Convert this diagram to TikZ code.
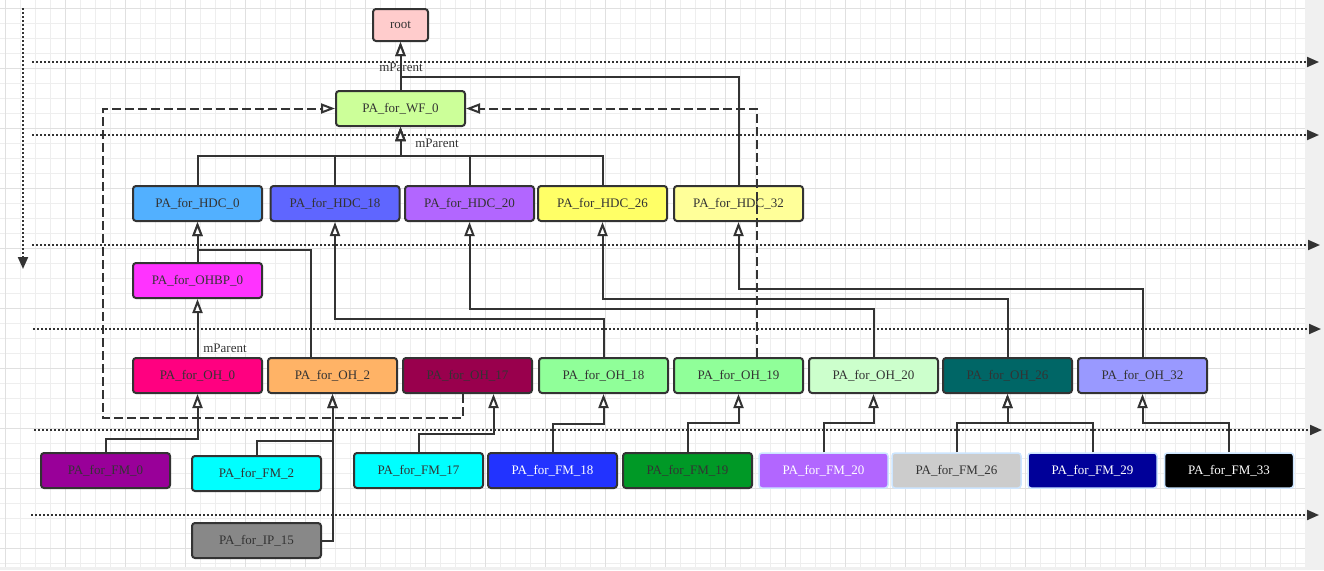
\documentclass[tikz,border=0pt]{standalone}
\usepackage{fontspec}
\setmainfont{Liberation Serif}
\usetikzlibrary{arrows.meta}
\definecolor{ln}{HTML}{333333}
\definecolor{lb}{HTML}{CCE5FF}
\definecolor{gminor}{HTML}{EEEEEE}
\definecolor{gmajor}{HTML}{E0E0E0}
\definecolor{cRoot}{HTML}{FFCCCC}
\definecolor{cWF}{HTML}{CCFF99}
\definecolor{cHa}{HTML}{52B0FF}
\definecolor{cHb}{HTML}{5F66FF}
\definecolor{cHc}{HTML}{B266FF}
\definecolor{cHd}{HTML}{FFFF66}
\definecolor{cHe}{HTML}{FFFF99}
\definecolor{cBP}{HTML}{FF33FF}
\definecolor{cOa}{HTML}{FF0080}
\definecolor{cOb}{HTML}{FFB366}
\definecolor{cOc}{HTML}{99004D}
\definecolor{cOd}{HTML}{90FF99}
\definecolor{cOe}{HTML}{CCFFCC}
\definecolor{cOf}{HTML}{006666}
\definecolor{cOg}{HTML}{9999FF}
\definecolor{cFa}{HTML}{990099}
\definecolor{cFb}{HTML}{00FFFF}
\definecolor{cFc}{HTML}{2233FF}
\definecolor{cFd}{HTML}{009926}
\definecolor{cFe}{HTML}{B266FF}
\definecolor{cFf}{HTML}{CCCCCC}
\definecolor{cFg}{HTML}{000099}
\definecolor{cIP}{HTML}{888888}
\begin{document}
\begin{tikzpicture}[x=1pt,y=-1pt,
  box/.style={draw=ln, line width=2pt, rounded corners=3pt, minimum width=129pt, minimum height=35pt, inner sep=0pt, font=\fontsize{13}{15}\selectfont, text=ln},
  lbox/.style={box, draw=lb, line width=1.5pt},
  conn/.style={draw=ln, line width=2pt, -{Triangle[open,length=14pt,width=10pt,fill=white,line width=2pt]}},
  dconn/.style={conn, dash pattern=on 9pt off 4pt},
  sep/.style={draw=ln, line width=2pt, dash pattern=on 2pt off 2pt, -{Triangle[length=12pt,width=10pt]}},
  lab/.style={inner sep=1pt, font=\fontsize{13}{15}\selectfont, text=ln},
  labw/.style={lab, fill=white}]
\useasboundingbox (0,0) rectangle (1324,570);
\fill[white] (0,0) rectangle (1324,570);
\foreach \x in {5,20,...,1305} \draw[gminor, line width=0.8pt] (\x,0) -- (\x,570);
\foreach \y in {8,23,...,570} \draw[gminor, line width=0.8pt] (0,\y) -- (1305,\y);
\foreach \x in {5,65,...,1305} \draw[gmajor, line width=0.8pt] (\x,0) -- (\x,570);
\foreach \y in {8,68,...,570} \draw[gmajor, line width=0.8pt] (0,\y) -- (1305,\y);
\fill[gray!12] (1305,0) rectangle (1324,570);
\fill[gray!12] (0,567) rectangle (1305,570);

% separators
\coordinate (s1a) at (32,62);   \coordinate (s1b) at (1319,62);
\coordinate (s2a) at (32,135);  \coordinate (s2b) at (1319,135);
\coordinate (s3a) at (32,245);  \coordinate (s3b) at (1320,245);
\coordinate (s4a) at (33,329);  \coordinate (s4b) at (1321,329);
\coordinate (s5a) at (34,430);  \coordinate (s5b) at (1322,430);
\coordinate (s6a) at (31,515);  \coordinate (s6b) at (1319,515);
\coordinate (v1a) at (23,8);    \coordinate (v1b) at (23,269);
\foreach \s in {s1,s2,s3,s4,s5,s6} \draw[sep] (\s a) -- (\s b);
\draw[sep] (v1a) -- (v1b);

% nodes
\node[box, fill=cRoot, minimum width=55pt, minimum height=32pt] (root) at (400.5,25) {root};
\node[box, fill=cWF] (wf) at (400.5,108.5) {PA\_for\_WF\_0};
\node[box, fill=cHa] (hdc0) at (197.5,203.5) {PA\_for\_HDC\_0};
\node[box, fill=cHb] (hdc18) at (335,203.5) {PA\_for\_HDC\_18};
\node[box, fill=cHc] (hdc20) at (469.5,203.5) {PA\_for\_HDC\_20};
\node[box, fill=cHd] (hdc26) at (602.5,203.5) {PA\_for\_HDC\_26};
\node[box, fill=cHe] (hdc32) at (738.5,203.5) {PA\_for\_HDC\_32};
\node[box, fill=cBP] (ohbp) at (197.5,280.5) {PA\_for\_OHBP\_0};
\node[box, fill=cOa] (oh0) at (197.5,375.5) {PA\_for\_OH\_0};
\node[box, fill=cOb] (oh2) at (332.5,375.5) {PA\_for\_OH\_2};
\node[box, fill=cOc] (oh17) at (467.5,375.5) {PA\_for\_OH\_17};
\node[box, fill=cOd] (oh18) at (603.5,375.5) {PA\_for\_OH\_18};
\node[box, fill=cOd] (oh19) at (738.5,375.5) {PA\_for\_OH\_19};
\node[box, fill=cOe] (oh20) at (873.5,375.5) {PA\_for\_OH\_20};
\node[box, fill=cOf] (oh26) at (1007.5,375.5) {PA\_for\_OH\_26};
\node[box, fill=cOg] (oh32) at (1142.5,375.5) {PA\_for\_OH\_32};
\node[box, fill=cFa] (fm0) at (105.5,470.5) {PA\_for\_FM\_0};
\node[box, fill=cFb] (fm2) at (256.5,473.5) {PA\_for\_FM\_2};
\node[box, fill=cFb] (fm17) at (418.5,470.5) {PA\_for\_FM\_17};
\node[box, fill=cFc, text=white] (fm18) at (552.5,470.5) {PA\_for\_FM\_18};
\node[box, fill=cFd] (fm19) at (687.5,470.5) {PA\_for\_FM\_19};
\node[lbox, fill=cFe, text=white] (fm20) at (823.5,470.5) {PA\_for\_FM\_20};
\node[lbox, fill=cFf] (fm26) at (956.5,470.5) {PA\_for\_FM\_26};
\node[lbox, fill=cFg, text=white] (fm29) at (1092.5,470.5) {PA\_for\_FM\_29};
\node[lbox, fill=black, text=white] (fm33) at (1229,470.5) {PA\_for\_FM\_33};
\node[box, fill=cIP] (ip15) at (256.5,540.5) {PA\_for\_IP\_15};

% labels
\node[lab] (l1) at (401,67) {mParent};
\node[labw] (l2) at (437,143) {mParent};
\node[labw] (l3) at (225,348) {mParent};

% dashed connectors
\draw[dconn] ([xshift=-5pt]oh17.south) |- (103,418) -- (103,108.5) -- (wf.west);
\draw[dconn] ([xshift=18pt]oh19.north) |- (wf.east);

% solid connectors
\draw[conn] (wf.north) -- (root.south);
\draw[conn] (hdc32.north) -- (hdc32.north |- 0,77) -| (root.south);
\foreach \n in {hdc0,hdc18,hdc20,hdc26}
  \draw[conn] (\n.north) -- (\n.north |- 0,156) -| (wf.south);
\draw[conn] (ohbp.north) -- (hdc0.south);
\draw[conn] (oh0.north) -- (ohbp.south);
\draw[conn] ([xshift=-22pt]oh2.north) -- ([xshift=-22pt]oh2.north |- 0,250) -| (hdc0.south);
\draw[conn] (oh18.north) -- (oh18.north |- 0,319) -| (hdc18.south);
\draw[conn] (oh20.north) -- (oh20.north |- 0,309) -| (hdc20.south);
\draw[conn] (oh26.north) -- (oh26.north |- 0,299) -| (hdc26.south);
\draw[conn] (oh32.north) -- (oh32.north |- 0,289) -| (hdc32.south);
\draw[conn] (fm0.north) -- (fm0.north |- 0,439) -| (oh0.south);
\draw[conn] (fm2.north) -- (fm2.north |- 0,441) -| (oh2.south);
\draw[conn] (ip15.east) -| (oh2.south);
\draw[conn] (fm17.north) -- (fm17.north |- 0,434) -| ([xshift=26pt]oh17.south);
\draw[conn] (fm18.north) -- (fm18.north |- 0,424) -| (oh18.south);
\draw[conn] (fm19.north) -- (fm19.north |- 0,423) -| (oh19.south);
\draw[conn] (fm20.north) -- (fm20.north |- 0,423) -| (oh20.south);
\draw[conn] (fm26.north) -- (fm26.north |- 0,423) -| (oh26.south);
\draw[conn] (fm29.north) -- (fm29.north |- 0,423) -| (oh26.south);
\draw[conn] (fm33.north) -- (fm33.north |- 0,423) -| (oh32.south);
\end{tikzpicture}
\end{document}
